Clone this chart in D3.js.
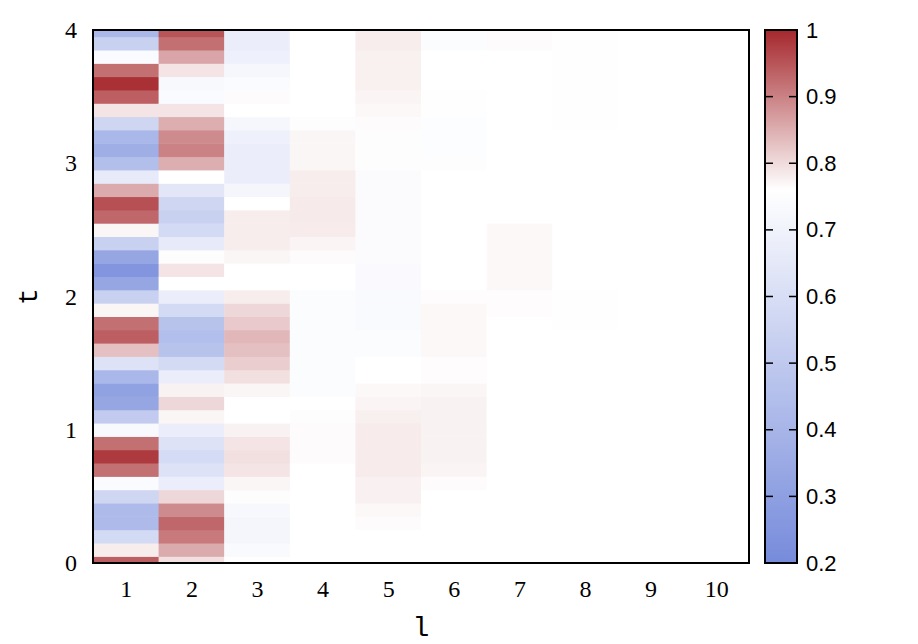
<!DOCTYPE html>
<html>
<head>
<meta charset="utf-8">
<script src="https://cdn.jsdelivr.net/npm/d3@7"></script>
<style>
  body { margin: 0; background: #fff; }
</style>
</head>
<body>
<div id="chart"></div>
<script>
// column index l and time rows t
const lValues = [1, 2, 3, 4, 5, 6, 7, 8, 9, 10];
const tValues = [0.0, 0.1, 0.2, 0.3, 0.4, 0.5, 0.6, 0.7, 0.8, 0.9,
                 1.0, 1.1, 1.2, 1.3, 1.4, 1.5, 1.6, 1.7, 1.8, 1.9,
                 2.0, 2.1, 2.2, 2.3, 2.4, 2.5, 2.6, 2.7, 2.8, 2.9,
                 3.0, 3.1, 3.2, 3.3, 3.4, 3.5, 3.6, 3.7, 3.8, 3.9, 4.0];

// one array per column, values from t = 0.0 up to t = 4.0
const col1 = [0.94, 0.78, 0.58, 0.43, 0.43, 0.56, 0.74, 0.92, 0.98, 0.92,
              0.73, 0.51, 0.33, 0.31, 0.41, 0.62, 0.83, 0.94, 0.92, 0.77,
              0.54, 0.33, 0.25, 0.33, 0.54, 0.77, 0.93, 0.955, 0.855, 0.66,
              0.45, 0.37, 0.41, 0.56, 0.79, 0.94, 0.99, 0.92, 0.74, 0.54, 0.41];
const col2 = [0.795, 0.855, 0.91, 0.93, 0.89, 0.805, 0.68, 0.62, 0.585, 0.62,
              0.68, 0.77, 0.805, 0.775, 0.68, 0.58, 0.47, 0.445, 0.47, 0.58,
              0.68, 0.76, 0.79, 0.75, 0.66, 0.58, 0.54, 0.56, 0.64, 0.76,
              0.85, 0.90, 0.89, 0.85, 0.79, 0.74, 0.73, 0.79, 0.86, 0.92, 0.95];
const col3 = [0.76, 0.735, 0.715, 0.715, 0.725, 0.75, 0.77, 0.79, 0.795, 0.79,
              0.775, 0.76, 0.76, 0.77, 0.795, 0.815, 0.83, 0.84, 0.82, 0.805,
              0.78, 0.76, 0.76, 0.77, 0.78, 0.78, 0.78, 0.76, 0.715, 0.68,
              0.68, 0.68, 0.69, 0.72, 0.76, 0.765, 0.74, 0.72, 0.69, 0.68, 0.68];
const col4 = [0.76, 0.76, 0.76, 0.76, 0.76, 0.76, 0.76, 0.76, 0.765, 0.765,
              0.765, 0.762, 0.76, 0.745, 0.745, 0.745, 0.745, 0.745, 0.745, 0.745,
              0.745, 0.76, 0.76, 0.765, 0.772, 0.782, 0.783, 0.783, 0.78, 0.78,
              0.77, 0.77, 0.77, 0.752, 0.76, 0.76, 0.758, 0.758, 0.758, 0.76, 0.76];
const col5 = [0.76, 0.76, 0.76, 0.765, 0.768, 0.776, 0.776, 0.782, 0.782, 0.782,
              0.782, 0.778, 0.772, 0.768, 0.76, 0.76, 0.745, 0.745, 0.737, 0.737,
              0.737, 0.738, 0.738, 0.742, 0.742, 0.742, 0.742, 0.742, 0.742, 0.742,
              0.75, 0.75, 0.75, 0.764, 0.768, 0.772, 0.777, 0.777, 0.777, 0.78, 0.78];
const col6 = [0.76, 0.76, 0.76, 0.76, 0.76, 0.76, 0.765, 0.772, 0.775, 0.775,
              0.775, 0.775, 0.775, 0.77, 0.763, 0.763, 0.768, 0.768, 0.768, 0.768,
              0.763, 0.76, 0.76, 0.76, 0.76, 0.76, 0.76, 0.758, 0.76, 0.76,
              0.75, 0.748, 0.748, 0.748, 0.755, 0.755, 0.76, 0.76, 0.76, 0.745, 0.745];
const col7 = [0.76, 0.76, 0.76, 0.76, 0.76, 0.76, 0.76, 0.76, 0.76, 0.76,
              0.76, 0.76, 0.76, 0.76, 0.76, 0.76, 0.76, 0.76, 0.76, 0.763,
              0.763, 0.768, 0.768, 0.768, 0.768, 0.768, 0.76, 0.76, 0.76, 0.76,
              0.76, 0.76, 0.76, 0.76, 0.76, 0.76, 0.76, 0.76, 0.76, 0.765, 0.765];
const col8 = [0.76, 0.76, 0.76, 0.76, 0.76, 0.76, 0.76, 0.76, 0.76, 0.76,
              0.76, 0.76, 0.76, 0.76, 0.76, 0.76, 0.76, 0.76, 0.761, 0.761,
              0.761, 0.76, 0.76, 0.76, 0.76, 0.76, 0.76, 0.76, 0.76, 0.76,
              0.76, 0.76, 0.76, 0.761, 0.761, 0.761, 0.761, 0.761, 0.761, 0.761, 0.761];
const col9 = [0.76, 0.76, 0.76, 0.76, 0.76, 0.76, 0.76, 0.76, 0.76, 0.76,
              0.76, 0.76, 0.76, 0.76, 0.76, 0.76, 0.76, 0.76, 0.76, 0.76,
              0.76, 0.76, 0.76, 0.76, 0.76, 0.76, 0.76, 0.76, 0.76, 0.76,
              0.76, 0.76, 0.76, 0.76, 0.76, 0.76, 0.76, 0.76, 0.76, 0.76, 0.76];
const col10 = [0.76, 0.76, 0.76, 0.76, 0.76, 0.76, 0.76, 0.76, 0.76, 0.76,
               0.76, 0.76, 0.76, 0.76, 0.76, 0.76, 0.76, 0.76, 0.76, 0.76,
               0.76, 0.76, 0.76, 0.76, 0.76, 0.76, 0.76, 0.76, 0.76, 0.76,
               0.76, 0.76, 0.76, 0.76, 0.76, 0.76, 0.76, 0.76, 0.76, 0.76, 0.76];
const columns = [col1, col2, col3, col4, col5, col6, col7, col8, col9, col10];

const yTicks = [0, 1, 2, 3, 4];
const cbTicks = [0.2, 0.3, 0.4, 0.5, 0.6, 0.7, 0.8, 0.9, 1];

(function() {
  const width = 918, height = 644;
  const left = 93, right = 749, top = 30, bottom = 563;
  const cbLeft = 765, cbRight = 797;

  const svg = d3.select("#chart").append("svg")
    .attr("width", width)
    .attr("height", height);

  const x = d3.scaleLinear().domain([0.5, 10.5]).range([left, right]);
  const y = d3.scaleLinear().domain([0, 4]).range([bottom, top]);

  // palette: blue -> white -> red, white sits near 0.76
  const color = d3.scaleLinear()
    .domain([0.2, 0.76, 1])
    .range(["rgb(118,139,219)", "rgb(255,255,255)", "rgb(165,40,45)"])
    .clamp(true);

  // flatten into cells
  const cells = [];
  columns.forEach((col, i) => {
    col.forEach((v, j) => cells.push({ l: lValues[i], t: tValues[j], v: v }));
  });

  svg.append("clipPath").attr("id", "plotclip")
    .append("rect")
    .attr("x", left).attr("y", top)
    .attr("width", right - left).attr("height", bottom - top);

  svg.append("g")
    .attr("clip-path", "url(#plotclip)")
    .selectAll("rect")
    .data(cells)
    .join("rect")
    .attr("x", d => x(d.l - 0.5))
    .attr("y", d => y(d.t + 0.05))
    .attr("width", d => x(d.l + 0.5) - x(d.l - 0.5) + 0.5)
    .attr("height", d => y(d.t - 0.05) - y(d.t + 0.05) + 0.5)
    .attr("fill", d => color(d.v));

  // frame
  svg.append("rect")
    .attr("x", left).attr("y", top)
    .attr("width", right - left).attr("height", bottom - top)
    .attr("fill", "none")
    .attr("stroke", "black")
    .attr("stroke-width", 2);

  // axes
  const yAxis = svg.append("g")
    .attr("transform", `translate(${left},0)`)
    .call(d3.axisLeft(y).tickValues(yTicks).tickSize(0).tickPadding(16).tickFormat(d3.format("d")));
  yAxis.select(".domain").remove();
  yAxis.selectAll("text")
    .attr("font-family", "'Liberation Serif', serif")
    .attr("font-size", 24)
    .attr("fill", "black");

  const xAxis = svg.append("g")
    .attr("transform", `translate(0,${bottom})`)
    .call(d3.axisBottom(x).tickValues(lValues).tickSize(0).tickPadding(17).tickFormat(d3.format("d")));
  xAxis.select(".domain").remove();
  xAxis.selectAll("text")
    .attr("font-family", "'Liberation Serif', serif")
    .attr("font-size", 24)
    .attr("fill", "black");

  // axis titles
  svg.append("text")
    .attr("x", (left + right) / 2)
    .attr("y", 636)
    .attr("text-anchor", "middle")
    .attr("font-family", "'Liberation Mono', monospace")
    .attr("font-size", 28)
    .text("l");

  svg.append("text")
    .attr("transform", `translate(37,${(top + bottom) / 2}) rotate(-90)`)
    .attr("text-anchor", "middle")
    .attr("font-family", "'Liberation Mono', monospace")
    .attr("font-size", 28)
    .text("t");

  // colorbar
  const cb = d3.scaleLinear().domain([0.2, 1]).range([bottom, top]);
  const grad = svg.append("defs").append("linearGradient")
    .attr("id", "cbgrad")
    .attr("x1", 0).attr("y1", 1).attr("x2", 0).attr("y2", 0);
  color.domain().forEach(v => {
    grad.append("stop")
      .attr("offset", (v - 0.2) / 0.8)
      .attr("stop-color", color(v));
  });

  svg.append("rect")
    .attr("x", cbLeft).attr("y", top)
    .attr("width", cbRight - cbLeft).attr("height", bottom - top)
    .attr("fill", "url(#cbgrad)")
    .attr("stroke", "black")
    .attr("stroke-width", 2);

  const inner = cbTicks.slice(1, -1);
  svg.append("g").selectAll("line.l")
    .data(inner).join("line")
    .attr("x1", cbLeft).attr("x2", cbLeft + 8)
    .attr("y1", d => cb(d)).attr("y2", d => cb(d))
    .attr("stroke", "black").attr("stroke-width", 1.5);
  svg.append("g").selectAll("line.r")
    .data(inner).join("line")
    .attr("x1", cbRight - 8).attr("x2", cbRight)
    .attr("y1", d => cb(d)).attr("y2", d => cb(d))
    .attr("stroke", "black").attr("stroke-width", 1.5);

  const cbAxis = svg.append("g")
    .attr("transform", `translate(${cbRight},0)`)
    .call(d3.axisRight(cb).tickValues(cbTicks).tickSize(0).tickPadding(9).tickFormat(d3.format("")));
  cbAxis.select(".domain").remove();
  cbAxis.selectAll("text")
    .attr("font-family", "'Liberation Sans', Arial, sans-serif")
    .attr("font-size", 22)
    .attr("fill", "black");
})();
</script>
</body>
</html>
